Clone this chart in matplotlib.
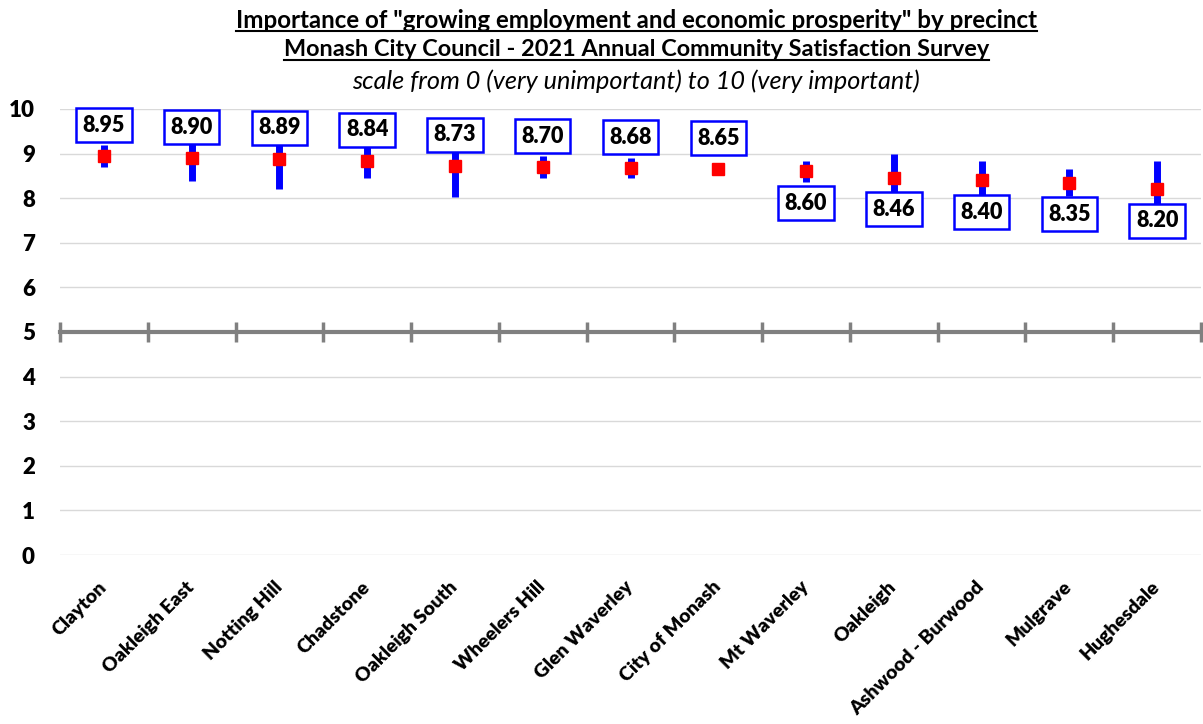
import numpy as np
import matplotlib
matplotlib.use("Agg")
import matplotlib.pyplot as plt
from matplotlib.lines import Line2D

plt.rcParams["font.family"] = ["Lato", "DejaVu Sans"]

# precincts, means and confidence interval ends
precincts = ["Clayton", "Oakleigh East", "Notting Hill", "Chadstone",
             "Oakleigh South", "Wheelers Hill", "Glen Waverley",
             "City of Monash", "Mt Waverley", "Oakleigh",
             "Ashwood - Burwood", "Mulgrave", "Hughesdale"]
means = [8.95, 8.90, 8.89, 8.84, 8.73, 8.70, 8.68, 8.65, 8.60, 8.46,
         8.40, 8.35, 8.20]
ci_low = [8.70, 8.39, 8.21, 8.46, 8.03, 8.46, 8.46, 8.65, 8.37, 7.94,
          7.97, 8.05, 7.57]
ci_high = [9.20, 9.41, 9.57, 9.22, 9.43, 8.94, 8.90, 8.65, 8.83, 8.98,
           8.83, 8.65, 8.83]
label_above = [True] * 8 + [False] * 5

W, H = 1203, 724
fig = plt.figure(figsize=(W / 100, H / 100), dpi=100)
ax = fig.add_axes([60 / W, 1 - 555 / H, 1141 / W, 446 / H])

n = len(precincts)
x = np.arange(n)

ax.vlines(x, ci_low, ci_high, color="#0000ff", lw=5, zorder=3)
ax.plot(x, means, "s", color="#ff0000", ms=8.6, mec="#ff0000", zorder=4)

for xi, m, up in zip(x, means, label_above):
    y = m + 0.69 if up else m - 0.71
    ax.text(xi, y, f"{m:.2f}", ha="center", va="center", fontsize=15.5,
            fontweight="heavy", zorder=5, clip_on=False,
            bbox=dict(boxstyle="square,pad=0.3", fc="white",
                      ec="#0000ff", lw=1.8))

for xi, name in zip(x, precincts):
    ax.text(xi - 0.07, -0.52, name, rotation=45, ha="right", va="top",
            rotation_mode="anchor", fontsize=14, fontweight="heavy")

ax.set_xlim(-0.5, n - 0.5)
ax.set_ylim(0, 10)
ax.set_yticks(range(0, 11))
ax.yaxis.grid(True, color="#d9d9d9", lw=1)
ax.set_axisbelow(True)
ax.tick_params(axis="y", length=0, pad=18, labelsize=16)
for lbl in ax.get_yticklabels():
    lbl.set_fontweight("heavy")

for s in ["top", "right", "left"]:
    ax.spines[s].set_visible(False)
ax.spines["bottom"].set_position(("data", 5))
ax.spines["bottom"].set_color("#808080")
ax.spines["bottom"].set_linewidth(3)
ax.spines["bottom"].set_zorder(2)
ax.set_xticks(np.arange(n + 1) - 0.5)
ax.tick_params(axis="x", direction="inout", length=14, width=2.5,
               color="#808080", labelbottom=False)

t1 = fig.text(0.529, 1 - 20 / H, 'Importance of "growing employment and economic prosperity" by precinct',
              ha="center", va="center", fontsize=17.4, fontweight="bold")
t2 = fig.text(0.529, 1 - 50 / H, "Monash City Council - 2021 Annual Community Satisfaction Survey",
              ha="center", va="center", fontsize=16.9, fontweight="bold")
fig.text(0.529, 1 - 81 / H, "scale from 0 (very unimportant) to 10 (very important)",
         ha="center", va="center", fontsize=18.2, style="italic")

fig.canvas.draw()
r = fig.canvas.get_renderer()
for t in (t1, t2):
    bb = t.get_window_extent(r)
    yl = (bb.y0 + 1) / H
    fig.add_artist(Line2D([bb.x0 / W, bb.x1 / W], [yl, yl], color="black",
                          lw=1.5, transform=fig.transFigure))

fig.savefig("out.png", dpi=100)
